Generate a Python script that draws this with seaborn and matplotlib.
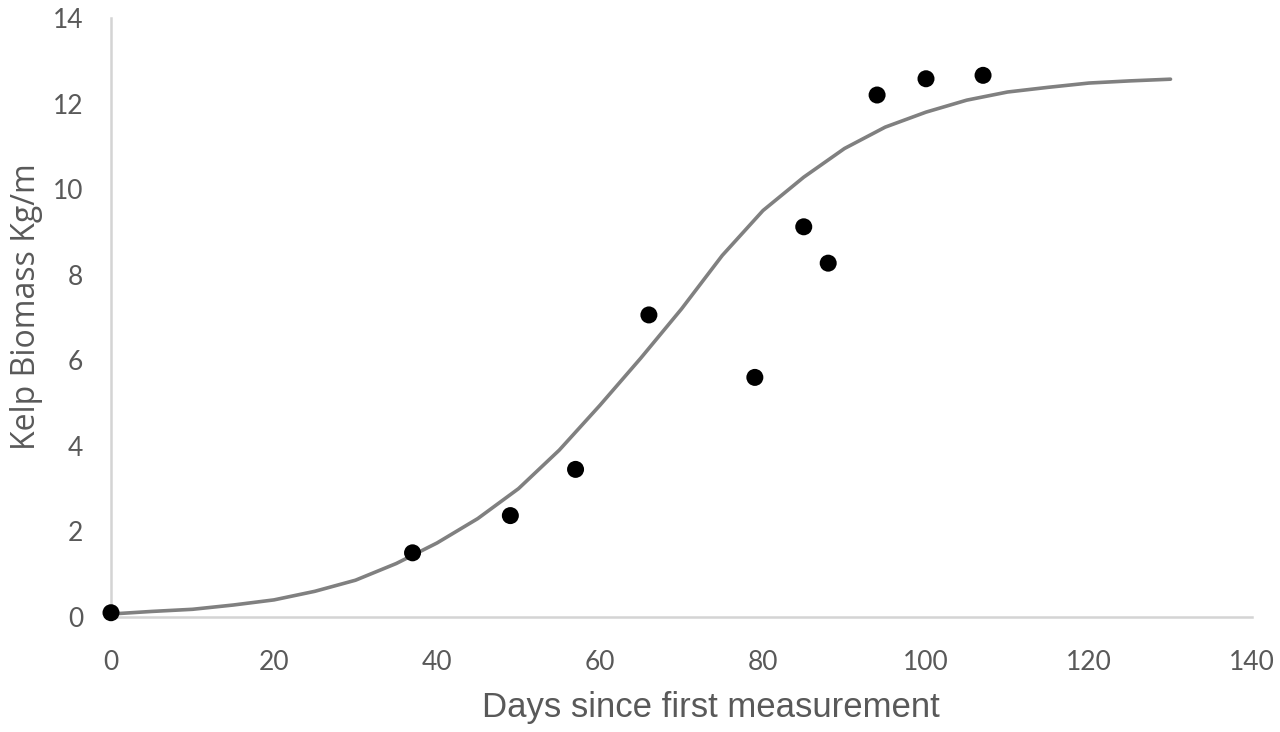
import matplotlib
matplotlib.use("Agg")
import matplotlib.pyplot as plt
import seaborn as sns
import pandas as pd

# Observed kelp biomass
obs_days = [0, 37, 49, 57, 66, 79, 85, 88, 94, 100, 107]
obs_biomass = [0.1, 1.5, 2.37, 3.45, 7.06, 5.6, 9.12, 8.27, 12.2, 12.58, 12.66]

# Fitted curve
fit_days = [0, 5, 10, 15, 20, 25, 30, 35, 40, 45, 50, 55, 60, 65, 70,
            75, 80, 85, 90, 95, 100, 105, 110, 115, 120, 125, 130]
fit_biomass = [0.07, 0.13, 0.18, 0.28, 0.40, 0.60, 0.86, 1.25, 1.73, 2.30,
               3.00, 3.90, 4.95, 6.05, 7.20, 8.45, 9.50, 10.28, 10.95, 11.45,
               11.80, 12.08, 12.27, 12.38, 12.48, 12.53, 12.57]

x_ticks = [0, 20, 40, 60, 80, 100, 120, 140]
y_ticks = [0, 2, 4, 6, 8, 10, 12, 14]
x_label = "Days since first measurement"
y_label = "Kelp Biomass Kg/m"

sns.set_style("white")
plt.rcParams["font.family"] = ["Lato", "DejaVu Sans"]

obs = pd.DataFrame({"day": obs_days, "biomass": obs_biomass})
fit = pd.DataFrame({"day": fit_days, "biomass": fit_biomass})

fig = plt.figure(figsize=(12.8, 7.32), dpi=100)
ax = fig.add_axes([111 / 1280, 1 - 617 / 732, (1252 - 111) / 1280, (617 - 18) / 732])

sns.lineplot(data=fit, x="day", y="biomass", ax=ax, color="#808080",
             linewidth=2.6, zorder=2)
sns.scatterplot(data=obs, x="day", y="biomass", ax=ax, color="black",
                s=150, edgecolor="none", zorder=3, clip_on=False)

ax.set_xlim(0, 140)
ax.set_ylim(0, 14)
ax.set_xticks(x_ticks)
ax.set_yticks(y_ticks)

text_color = "#595959"
ax.tick_params(axis="x", length=0, pad=24, labelsize=19, labelcolor=text_color)
ax.tick_params(axis="y", length=0, pad=20, labelsize=19, labelcolor=text_color)

ax.set_xlabel(x_label, fontsize=25, color=text_color, labelpad=11,
              family=["Liberation Sans", "DejaVu Sans"])
ax.set_ylabel(y_label, fontsize=23, color=text_color, labelpad=8,
              family=["Open Sans", "DejaVu Sans"])
ax.xaxis.set_label_coords(0.526, -0.123)
ax.yaxis.set_label_coords(-0.06, 0.5175)

for side in ["top", "right"]:
    ax.spines[side].set_visible(False)
for side in ["left", "bottom"]:
    ax.spines[side].set_color("#d4d4d4")
    ax.spines[side].set_linewidth(1.8)

ax.grid(False)
fig.savefig("out.png", dpi=100)
